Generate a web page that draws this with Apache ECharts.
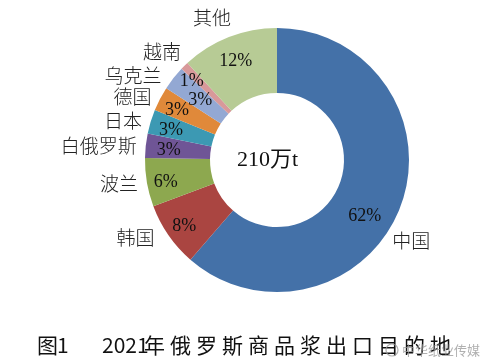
<!DOCTYPE html>
<html>
<head>
<meta charset="utf-8">
<script src="https://cdn.jsdelivr.net/npm/echarts@6/dist/echarts.min.js"></script>
<style>
html,body{margin:0;padding:0;background:#fff;}
#chart{width:489px;height:364px;}
</style>
</head>
<body>
<div id="chart"></div>
<script>
const categories = ['中国','韩国','波兰','白俄罗斯','日本','德国','乌克兰','越南','其他'];
const shares = [62, 8, 6, 3, 3, 3, 3, 1, 12];
const colors = ['#4471A8','#AA4541','#8DA84F','#6F5596','#3C99B3','#E0893A','#93A8D3','#D8999A','#B7CB95'];
const centerText = '210万t';
const titlePrefix = '图1';
const titleYear = '2021';
const titleRest = '年俄罗斯商品浆出口目的地';
const watermark = '中华纸业传媒';

// label nudges (style only)
const insideNudge = { '中国': [-18, 17], '乌克兰': [12, 10], '越南': [-6, 2], '其他': [0, 6], '德国': [0, 3], '日本': [2, 3], '白俄罗斯': [4, 3], '波兰': [0, 3] };
const outsideNudge = { '中国': [-17, 35], '其他': [8, -12], '韩国': [-6, 2], '越南': [4, -8], '乌克兰': [-4, 3] };

const serif = '"Liberation Serif","Noto Sans CJK SC",serif';
const sans = '"Noto Sans CJK SC","DejaVu Sans",sans-serif';
const C = [277, 160];

const data = categories.map((n, i) => ({ name: n, value: shares[i], itemStyle: { color: colors[i] } }));
const ghostIn = categories.map((n, i) => ({ name: n, value: shares[i], label: { offset: insideNudge[n] || [0, 2] } }));
const ghostOut = categories.map((n, i) => ({ name: n, value: shares[i], label: { offset: outsideNudge[n] || [0, 3] } }));

const graphics = [
  { type: 'text', left: 237, top: 149, style: { text: centerText, font: '22px ' + serif, fill: '#111' } },
  { type: 'text', x: 37, y: 345, style: { text: titlePrefix.charAt(0), font: '21px ' + sans, fill: '#111', verticalAlign: 'middle' } },
  { type: 'text', x: 57, y: 345, style: { text: titlePrefix.charAt(1), font: '21px ' + sans, fill: '#111', verticalAlign: 'middle' } },
  { type: 'text', x: 102, y: 345, style: { text: titleYear, font: '21px ' + sans, fill: '#111', verticalAlign: 'middle' } }
];
Array.from(titleRest).forEach((ch, i) => {
  graphics.push({ type: 'text', x: 144 + i * 26, y: 345, style: { text: ch, font: '21px ' + sans, fill: '#111', verticalAlign: 'middle' } });
});
graphics.push({ type: 'text', x: 402, y: 350, z: 100, style: { text: watermark, font: '13px ' + sans, fill: 'rgba(150,150,150,0.75)', verticalAlign: 'middle' } });
graphics.push({ type: 'circle', shape: { cx: 392, cy: 350, r: 6 }, z: 100, style: { fill: 'none', stroke: 'rgba(150,150,150,0.75)', lineWidth: 1.2 } });

const option = {
  animation: false,
  backgroundColor: '#fff',
  graphic: graphics,
  series: [
    {
      type: 'pie', silent: true, center: C, radius: [67, 132], startAngle: 90, clockwise: true,
      label: { show: false }, labelLine: { show: false }, data: data
    },
    {
      type: 'pie', silent: true, center: C, radius: [88, 132], startAngle: 90, clockwise: true,
      avoidLabelOverlap: false,
      labelLayout: { hideOverlap: false, moveOverlap: null },
      itemStyle: { color: 'rgba(0,0,0,0)' },
      label: { show: true, position: 'inside', formatter: '{c}%', fontSize: 18, fontFamily: serif, color: '#111' },
      labelLine: { show: false }, data: ghostIn
    },
    {
      type: 'pie', silent: true, center: C, radius: [67, 132], startAngle: 90, clockwise: true,
      avoidLabelOverlap: false,
      labelLayout: { hideOverlap: false, moveOverlap: null },
      itemStyle: { color: 'rgba(0,0,0,0)' },
      label: { show: true, position: 'outside', formatter: '{b}', fontSize: 19, fontWeight: 300, fontFamily: serif, color: '#222', distanceToLabelLine: 4 },
      labelLine: { show: false, length: 5, length2: 0 }, data: ghostOut
    }
  ]
};
const chart = echarts.init(document.getElementById('chart'), null, { renderer: 'canvas' });
chart.setOption(option);
</script>
</body>
</html>
